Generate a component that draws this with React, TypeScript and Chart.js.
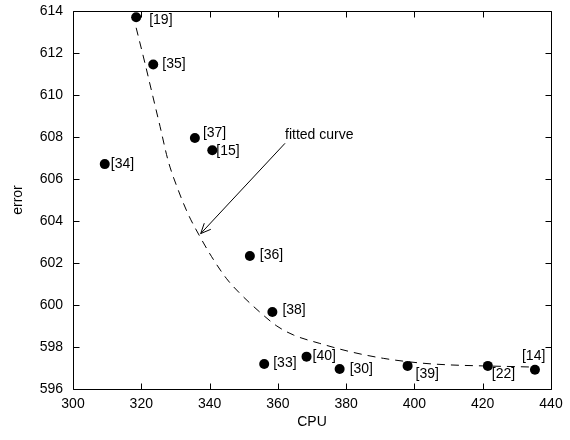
import { useEffect, useRef } from "react";
import { Chart, registerables } from "chart.js";

Chart.register(...registerables);

// ---- data ----
const cpu = [318.5, 323.5, 335.7, 340.8, 309.3, 351.8, 358.4, 356.0, 368.4, 378.1, 398.0, 421.5, 435.3];
const errorValues = [613.7, 611.45, 607.95, 607.37, 606.71, 602.33, 599.67, 597.19, 597.54, 596.95, 597.1, 597.1, 596.92];
const pointLabels = ["[19]", "[35]", "[37]", "[15]", "[34]", "[36]", "[38]", "[33]", "[40]", "[30]", "[39]", "[22]", "[14]"];

const curveCpu = [318.5, 321.1, 323.0, 325.5, 327.9, 330.8, 333.8, 337.2, 340.6, 345.0, 348.6, 354.8, 359.7, 364.6, 372.3, 381.1, 390.9, 401.6, 410, 420, 431, 435.3];
const curveError = [613.2, 611.5, 610.2, 608.5, 606.85, 605.48, 604.3, 603.25, 602.3, 601.25, 600.6, 599.65, 599.0, 598.57, 598.17, 597.78, 597.46, 597.24, 597.15, 597.1, 597.06, 597.04];

const xTickValues = [300, 320, 340, 360, 380, 400, 420, 440];
const yTickValues = [596, 598, 600, 602, 604, 606, 608, 610, 612, 614];

const xTitle = "CPU";
const yTitle = "error";
const annotationText = "fitted curve";
const arrowFrom = { x: 362.1, y: 607.7 };
const arrowTo = { x: 337.4, y: 603.4 };

// ---- styles ----
const FONT = '"Liberation Sans", Arial, Helvetica, sans-serif';
const labelOffsets = [
  [13, 3], [9, 0], [8, -5], [4, 1], [6, 0], [10, -1], [10, -2],
  [9, -1], [6, -1], [10, 0], [8, 8], [4, 8], [-13, -14],
];

const framePlugin = {
  id: "frameTicks",
  afterDraw(chart: any) {
    const { ctx, chartArea: a, scales } = chart;
    const xs = scales.x, ys = scales.y;
    ctx.save();
    ctx.strokeStyle = "#000";
    ctx.lineWidth = 1;
    ctx.beginPath();
    const L = Math.round(a.left) + 0.5, R = Math.round(a.right) + 0.5;
    const T = Math.round(a.top) + 0.5, B = Math.round(a.bottom) + 0.5;
    ctx.rect(L, T, R - L, B - T);
    const tl = 6;
    xTickValues.forEach((v) => {
      const px = Math.round(xs.getPixelForValue(v)) + 0.5;
      ctx.moveTo(px, B); ctx.lineTo(px, B - tl);
      ctx.moveTo(px, T); ctx.lineTo(px, T + tl);
    });
    yTickValues.forEach((v) => {
      const py = Math.round(ys.getPixelForValue(v)) + 0.5;
      ctx.moveTo(L, py); ctx.lineTo(L + tl, py);
      ctx.moveTo(R, py); ctx.lineTo(R - tl, py);
    });
    ctx.stroke();
    ctx.restore();
  },
};

const labelPlugin = {
  id: "pointLabelsAndArrow",
  afterDatasetsDraw(chart: any) {
    const { ctx, scales } = chart;
    const xs = scales.x, ys = scales.y;
    ctx.save();
    ctx.fillStyle = "#000";
    ctx.font = `14px ${FONT}`;
    ctx.textBaseline = "middle";
    ctx.textAlign = "left";
    pointLabels.forEach((t, i) => {
      const px = xs.getPixelForValue(cpu[i]) + labelOffsets[i][0];
      const py = ys.getPixelForValue(errorValues[i]) + labelOffsets[i][1];
      ctx.fillText(t, px, py);
    });
    // arrow annotation
    const x0 = xs.getPixelForValue(arrowFrom.x), y0 = ys.getPixelForValue(arrowFrom.y);
    const x1 = xs.getPixelForValue(arrowTo.x), y1 = ys.getPixelForValue(arrowTo.y);
    ctx.strokeStyle = "#000";
    ctx.lineWidth = 1;
    ctx.beginPath();
    ctx.moveTo(x0, y0);
    ctx.lineTo(x1, y1);
    const ang = Math.atan2(y0 - y1, x0 - x1);
    const hl = 11, ha = 0.42;
    ctx.moveTo(x1 + hl * Math.cos(ang + ha), y1 + hl * Math.sin(ang + ha));
    ctx.lineTo(x1, y1);
    ctx.lineTo(x1 + hl * Math.cos(ang - ha), y1 + hl * Math.sin(ang - ha));
    ctx.stroke();
    ctx.fillText(annotationText, x0, y0 - 8);
    ctx.restore();
  },
};

export default function App() {
  const ref = useRef<HTMLCanvasElement>(null);
  useEffect(() => {
    if (!ref.current) return;
    const tickFont = { size: 14, family: FONT };
    const chart = new Chart(ref.current, {
      type: "scatter",
      data: {
        datasets: [
          {
            type: "line",
            data: curveCpu.map((x, i) => ({ x, y: curveError[i] })),
            borderColor: "#000",
            borderWidth: 1,
            borderDash: [8, 6],
            pointRadius: 0,
            fill: false,
            cubicInterpolationMode: "monotone",
            order: 2,
          } as any,
          {
            type: "scatter",
            data: cpu.map((x, i) => ({ x, y: errorValues[i] })),
            backgroundColor: "#000",
            borderColor: "#000",
            borderWidth: 0,
            pointRadius: 5,
            order: 1,
          },
        ],
      },
      options: {
        animation: false,
        responsive: false,
        devicePixelRatio: 1,
        layout: { padding: { top: 11, right: 19, left: 0, bottom: 0 } },
        plugins: { legend: { display: false }, tooltip: { enabled: false } },
        scales: {
          x: {
            type: "linear",
            min: 300,
            max: 440,
            afterBuildTicks: (s: any) => { s.ticks = xTickValues.map((v) => ({ value: v })); },
            afterFit: (s: any) => { s.height = 51; s.paddingLeft = 0; s.paddingRight = 0; },
            ticks: { font: tickFont, color: "#000", padding: 7, maxRotation: 0, autoSkip: false },
            grid: { display: false, drawTicks: false },
            border: { display: false },
            title: { display: true, text: xTitle, font: tickFont, color: "#000", padding: { top: 0, bottom: 9 } },
          },
          y: {
            type: "linear",
            min: 596,
            max: 614,
            afterBuildTicks: (s: any) => { s.ticks = yTickValues.map((v) => ({ value: v })); },
            afterFit: (s: any) => { s.width = 73; s.paddingTop = 0; s.paddingBottom = 0; },
            ticks: { font: tickFont, color: "#000", padding: 10, autoSkip: false },
            grid: { display: false, drawTicks: false },
            border: { display: false },
            title: { display: true, text: yTitle, font: tickFont, color: "#000", padding: { top: 10, bottom: 0 } },
          },
        },
      },
      plugins: [framePlugin, labelPlugin],
    });
    return () => chart.destroy();
  }, []);
  return (
    <div style={{ position: "absolute", left: 0, top: 0, width: 570, height: 440, background: "#fff" }}>
      <canvas ref={ref} width={570} height={440} />
    </div>
  );
}
